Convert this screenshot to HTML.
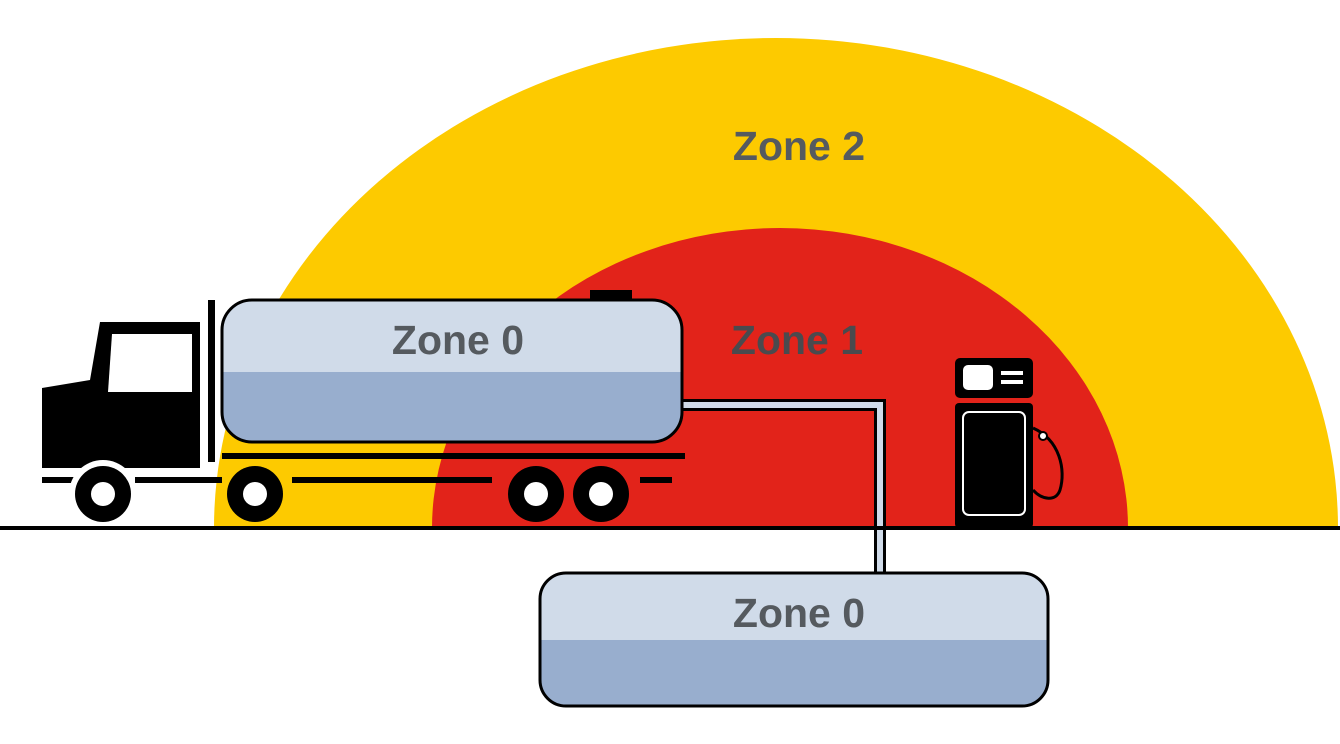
<!DOCTYPE html>
<html><head><style>html,body{margin:0;padding:0;background:#fff}svg{display:block}</style></head><body>
<svg width="1340" height="744" viewBox="0 0 1340 744" xmlns="http://www.w3.org/2000/svg" font-family="Liberation Sans, sans-serif">
<rect width="1340" height="744" fill="#fff"/>
<path d="M214 528 A562 490 0 0 1 1338 528 Z" fill="#fdca00"/>
<path d="M432 528 A348 300 0 0 1 1128 528 Z" fill="#e2231a"/>
<text x="799" y="160" font-size="41" font-weight="bold" fill="#555a5f" text-anchor="middle">Zone 2</text>
<text x="797" y="354" font-size="41" font-weight="bold" fill="#4a4a4e" text-anchor="middle">Zone 1</text>
<!-- pipe -->
<path d="M680 405 H880 V576" fill="none" stroke="#000" stroke-width="12"/>
<path d="M680 405 H880 V576" fill="none" stroke="#d0dbe9" stroke-width="6"/>
<!-- truck tank -->
<rect x="590" y="290" width="42" height="14" fill="#000"/>
<clipPath id="c1"><rect x="222" y="300" width="460" height="142" rx="30"/></clipPath>
<g clip-path="url(#c1)"><rect x="222" y="300" width="460" height="72" fill="#d0dbe9"/><rect x="222" y="372" width="460" height="70" fill="#98aece"/></g>
<rect x="222" y="300" width="460" height="142" rx="30" fill="none" stroke="#000" stroke-width="3"/>
<text x="458" y="354" font-size="41" font-weight="bold" fill="#555a5f" text-anchor="middle">Zone 0</text>
<!-- cab -->
<path d="M42 388 L90 380 L100 322 L200 322 L200 468 L42 468 Z" fill="#000"/>
<path d="M112 334 L192 334 L192 392 L108 392 Z" fill="#fff"/>
<rect x="208" y="300" width="7" height="162" fill="#000"/>
<rect x="222" y="453" width="463" height="6" fill="#000"/>
<g fill="#000"><rect x="42" y="477" width="40" height="6"/><rect x="135" y="477" width="87" height="6"/><rect x="292" y="477" width="200" height="6"/><rect x="640" y="477" width="32" height="6"/></g>
<g><circle cx="103" cy="494" r="34" fill="#fff"/><circle cx="103" cy="494" r="28" fill="#000"/><circle cx="103" cy="494" r="12" fill="#fff"/>
<circle cx="255" cy="494" r="28" fill="#000"/><circle cx="255" cy="494" r="12" fill="#fff"/>
<circle cx="536" cy="494" r="28" fill="#000"/><circle cx="536" cy="494" r="12" fill="#fff"/>
<circle cx="601" cy="494" r="28" fill="#000"/><circle cx="601" cy="494" r="12" fill="#fff"/></g>
<!-- pump -->
<rect x="955" y="358" width="78" height="40" rx="5" fill="#000"/>
<rect x="963" y="365" width="30" height="25" rx="5" fill="#fff"/>
<rect x="1001" y="371" width="22" height="4" fill="#fff"/><rect x="1001" y="380" width="22" height="4" fill="#fff"/>
<rect x="955" y="403" width="78" height="125" rx="4" fill="#000"/>
<rect x="963" y="412" width="62" height="103" rx="6" fill="none" stroke="#fff" stroke-width="2"/>
<path d="M1033 428 C1060 440 1066 470 1060 490 C1056 502 1042 500 1033 490" fill="none" stroke="#000" stroke-width="3"/>
<circle cx="1043" cy="436" r="4" fill="#fff" stroke="#000" stroke-width="2"/>
<!-- ground -->
<rect x="0" y="526" width="1340" height="4" fill="#000"/>
<!-- underground tank -->
<clipPath id="c2"><rect x="540" y="573" width="508" height="133" rx="26"/></clipPath>
<g clip-path="url(#c2)"><rect x="540" y="573" width="508" height="67" fill="#d0dbe9"/><rect x="540" y="640" width="508" height="66" fill="#98aece"/></g>
<rect x="540" y="573" width="508" height="133" rx="26" fill="none" stroke="#000" stroke-width="3"/>
<text x="799" y="627" font-size="41" font-weight="bold" fill="#555a5f" text-anchor="middle">Zone 0</text>
</svg>
</body></html>
